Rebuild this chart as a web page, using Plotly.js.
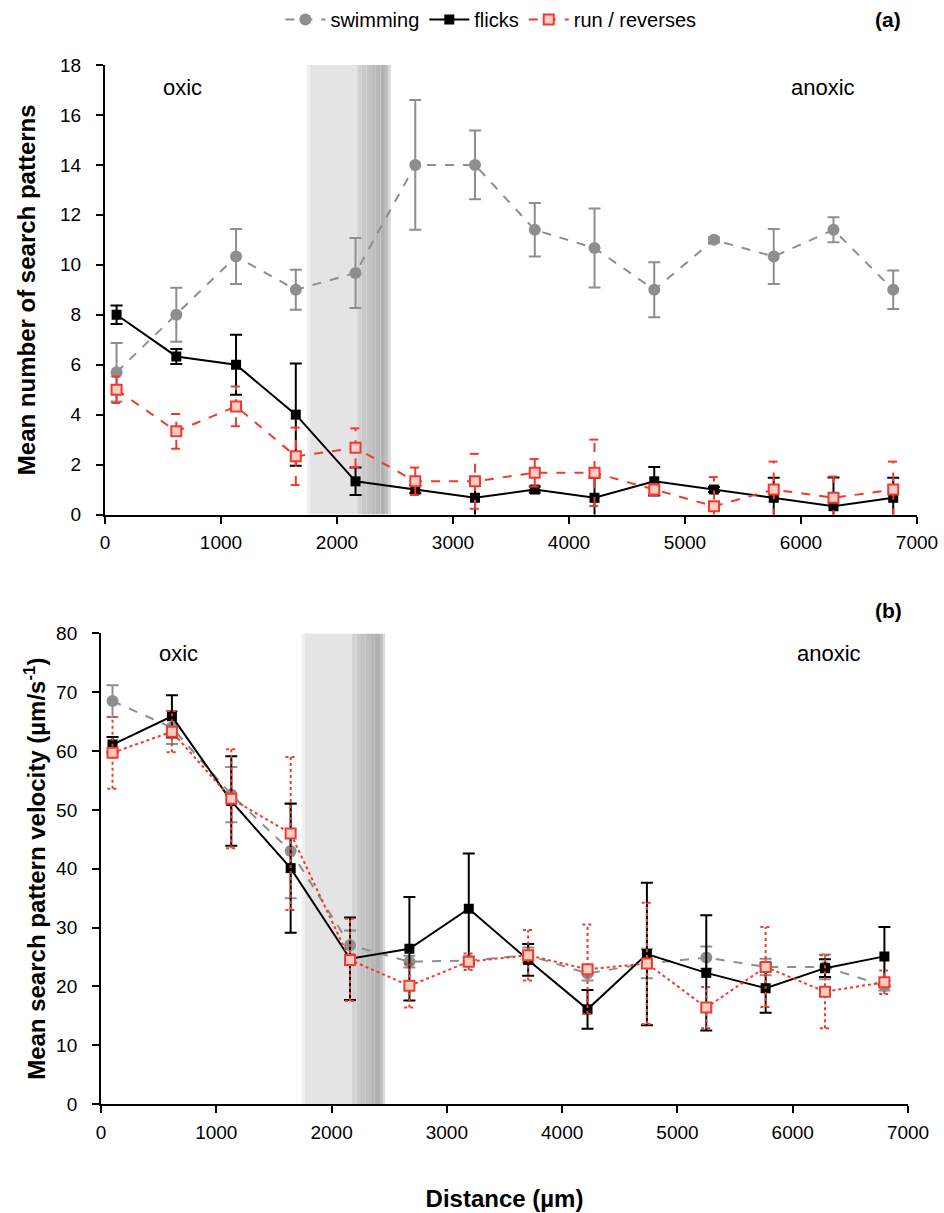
<!DOCTYPE html>
<html>
<head>
<meta charset="utf-8">
<script src="https://cdn.plot.ly/plotly-3.0.1.min.js"></script>
<style>html,body{margin:0;padding:0;background:#fff;}#chart{width:944px;height:1213px;}</style>
</head>
<body>
<div id="chart"></div>
<script>
// distance of each sampling position (µm)
const distance = [100, 615, 1130, 1645, 2160, 2675, 3190, 3705, 4220, 4735, 5250, 5765, 6280, 6795];

// (a) mean number of search patterns
const swimCount    = [5.7, 8.0, 10.33, 9.0, 9.67, 14.0, 14.0, 11.4, 10.67, 9.0, 11.0, 10.33, 11.4, 9.0];
const swimCountErr = [1.17, 1.08, 1.1, 0.8, 1.4, 2.6, 1.38, 1.07, 1.58, 1.1, 0.1, 1.1, 0.5, 0.77];
const flickCount    = [8.0, 6.33, 6.0, 4.0, 1.33, 1.0, 0.67, 1.0, 0.67, 1.33, 1.0, 0.67, 0.33, 0.67];
const flickCountErr = [0.37, 0.3, 1.2, 2.05, 0.55, 0.15, 0.8, 0.12, 0.8, 0.57, 0.1, 0.8, 1.15, 0.8];
const runCount    = [5.0, 3.33, 4.33, 2.33, 2.67, 1.33, 1.33, 1.67, 1.67, 1.0, 0.33, 1.0, 0.67, 1.0];
const runCountErr = [0.53, 0.7, 0.8, 1.15, 0.78, 0.55, 1.1, 0.55, 1.33, 0.22, 1.17, 1.12, 0.85, 1.12];

// (b) mean search pattern velocity (µm/s)
const swimVel    = [68.5, 64.0, 52.6, 43.0, 27.0, 24.2, 24.4, 25.3, 22.2, 23.9, 24.9, 23.3, 23.3, 20.1];
const swimVelErr = [2.7, 2.8, 4.7, 8.0, 2.5, 1.0, 0.7, 1.3, 1.2, 2.5, 1.9, 1.4, 2.1, 0.8];
const flickVel    = [61.1, 65.9, 51.5, 40.1, 24.7, 26.4, 33.2, 24.5, 16.1, 25.5, 22.3, 19.7, 23.1, 25.1];
const flickVelErr = [1.3, 3.6, 7.6, 11.0, 7.0, 8.8, 9.4, 2.7, 3.3, 12.1, 9.8, 4.2, 1.5, 5.0];
const runVel    = [59.7, 63.3, 51.9, 46.0, 24.5, 20.1, 24.2, 25.3, 22.9, 23.9, 16.4, 23.3, 19.1, 20.7];
const runVelErr = [6.1, 3.5, 8.4, 13.0, 7.0, 3.7, 1.4, 4.3, 7.6, 10.3, 3.5, 6.8, 6.2, 2.0];

const seriesNames = ["swimming", "flicks", "run / reverses"];
const xTicks = [0, 1000, 2000, 3000, 4000, 5000, 6000, 7000];

const GRAY = "#8e8e8e", BLACK = "#000000", RED = "#f03a2c";
const FONT = "Liberation Sans, Arial, sans-serif";
const CAP = 45; // half cap width of drawn error bars, in x units (style)

function tr(y, err, idx, xa, ya, dashRed, showLeg) {
  const styles = [
    {line: {color: GRAY, width: 2, dash: "dash"}, marker: {symbol: "circle", size: 12, color: GRAY}, ec: GRAY},
    {line: {color: BLACK, width: 2, dash: "solid"}, marker: {symbol: "square", size: 10, color: BLACK}, ec: BLACK},
    {line: {color: RED, width: 2, dash: dashRed}, marker: {symbol: "square", size: 10, color: "#ffcdc6", line: {color: RED, width: 2}}, ec: RED}
  ][idx];
  const t = {
    x: distance, y: y, type: "scatter", mode: "lines+markers",
    name: seriesNames[idx], xaxis: xa, yaxis: ya, showlegend: showLeg,
    line: styles.line, marker: styles.marker
  };
  if (idx !== 2) {
    t.error_y = {type: "data", array: err, visible: true, color: styles.ec, thickness: 2, width: 6};
  }
  return t;
}

// red error bars drawn as a line trace so that they can be dashed / dotted like the original
function redErr(y, err, xa, ya, dash) {
  const ex = [], ey = [];
  distance.forEach((d, i) => {
    const lo = y[i] - err[i], hi = y[i] + err[i];
    ex.push(d, d, null, d - CAP, d + CAP, null, d - CAP, d + CAP, null);
    ey.push(lo, hi, null, hi, hi, null, lo, lo, null);
  });
  return {x: ex, y: ey, type: "scatter", mode: "lines", xaxis: xa, yaxis: ya, showlegend: false,
    hoverinfo: "skip", line: {color: RED, width: 2, dash: dash}};
}

const data = [
  tr(swimCount, swimCountErr, 0, "x", "y", "dash", true),
  tr(flickCount, flickCountErr, 1, "x", "y", "dash", true),
  redErr(runCount, runCountErr, "x", "y", "dash"),
  tr(runCount, runCountErr, 2, "x", "y", "dash", true),
  tr(swimVel, swimVelErr, 0, "x2", "y2", "dot", false),
  tr(flickVel, flickVelErr, 1, "x2", "y2", "dot", false),
  redErr(runVel, runVelErr, "x2", "y2", "dot"),
  tr(runVel, runVelErr, 2, "x2", "y2", "dot", false)
];

function band(xref, yref, y1) {
  const parts = [
    [1740, 1765, "#f0f0f0"],
    [1765, 2175, "#e4e4e4"],
    [2175, 2215, "#d2d2d2"],
    [2215, 2255, "#c9c9c9"],
    [2255, 2295, "#c3c3c3"],
    [2295, 2335, "#bdbdbd"],
    [2335, 2375, "#b7b7b7"],
    [2375, 2420, "#b2b2b2"],
    [2420, 2445, "#bebebe"],
    [2445, 2465, "#dadada"]
  ];
  return parts.map(p => ({type: "rect", xref: xref, yref: yref, x0: p[0], x1: p[1], y0: 0, y1: y1,
    fillcolor: p[2], line: {width: 0}, layer: "below"}));
}

const axisCommon = {
  showgrid: false, zeroline: false, showline: true, linecolor: "#000", linewidth: 2,
  ticks: "outside", ticklen: 7, tickwidth: 2, tickcolor: "#000",
  tickfont: {family: FONT, size: 19, color: "#000"}
};

const layout = {
  width: 944, height: 1213,
  margin: {l: 0, r: 0, t: 0, b: 0},
  paper_bgcolor: "#fff", plot_bgcolor: "rgba(0,0,0,0)",
  font: {family: FONT, color: "#000"},
  showlegend: true,
  legend: {orientation: "h", x: 0.52, y: 0.985, xanchor: "center", yanchor: "middle",
    itemwidth: 40, font: {family: FONT, size: 20}, bgcolor: "rgba(0,0,0,0)"},
  xaxis: Object.assign({}, axisCommon, {domain: [0.1112, 0.9714], range: [0, 7000], tickvals: xTicks, anchor: "y", ticklabelstandoff: 3}),
  yaxis: Object.assign({}, axisCommon, {domain: [0.5763, 0.9472], range: [0, 18], dtick: 2, anchor: "x", ticklabelstandoff: 11,
    title: {text: "<b>Mean number of search patterns</b>", font: {family: FONT, size: 24}, standoff: 18}}),
  xaxis2: Object.assign({}, axisCommon, {domain: [0.1070, 0.9619], range: [0, 7000], tickvals: xTicks, anchor: "y2", ticklabelstandoff: 3,
    title: {text: "<b>Distance (µm)</b>", font: {family: FONT, size: 24}, standoff: 48}}),
  yaxis2: Object.assign({}, axisCommon, {domain: [0.0899, 0.4782], range: [0, 80], dtick: 10, anchor: "x2", ticklabelstandoff: 11,
    title: {text: "<b>Mean search pattern velocity (µm/s<sup>-1</sup>)</b>", font: {family: FONT, size: 24}, standoff: 4}}),
  shapes: band("x", "y", 18.15).concat(band("x2", "y2", 80)),
  annotations: [
    {text: "oxic", x: 672, y: 17.1, xref: "x", yref: "y", showarrow: false, font: {family: FONT, size: 22}},
    {text: "anoxic", x: 6190, y: 17.1, xref: "x", yref: "y", showarrow: false, font: {family: FONT, size: 22}},
    {text: "oxic", x: 668, y: 76.6, xref: "x2", yref: "y2", showarrow: false, font: {family: FONT, size: 22}},
    {text: "anoxic", x: 6314, y: 76.6, xref: "x2", yref: "y2", showarrow: false, font: {family: FONT, size: 22}},
    {text: "<b>(a)</b>", x: 0.9407, y: 0.985, xref: "paper", yref: "paper", xanchor: "center", yanchor: "middle", showarrow: false, font: {family: FONT, size: 21}},
    {text: "<b>(b)</b>", x: 0.9407, y: 0.497, xref: "paper", yref: "paper", xanchor: "center", yanchor: "middle", showarrow: false, font: {family: FONT, size: 21}}
  ]
};

Plotly.newPlot("chart", data, layout, {displayModeBar: false, staticPlot: true});
</script>
</body>
</html>
